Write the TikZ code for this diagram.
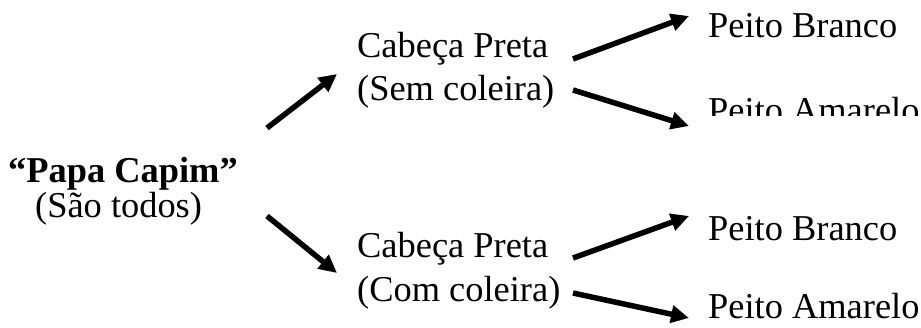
\documentclass[tikz,border=0pt]{standalone}
\usepackage{fontspec}
\setmainfont{Liberation Serif}
\usetikzlibrary{arrows.meta}
\begin{document}
\begin{tikzpicture}[x=1pt,y=-1pt,
  lbl/.style={inner sep=0pt,anchor=base west,font=\fontsize{36.4}{35}\selectfont},
  conn/.style={line width=5.5pt,-{Triangle[length=18pt,width=17pt]}}]
\useasboundingbox (0,0) rectangle (921,327);
% left
\node[lbl,font=\fontsize{36.4}{35}\selectfont\bfseries] (papa) at (8,182) {“Papa Capim”};
\node[lbl] (todos) at (35,217) {(São todos)};
% middle
\node[lbl] (cp1) at (357,57) {Cabeça Preta};
\node[lbl] (sem) at (357,100) {(Sem coleira)};
\node[lbl] (cp2) at (357,257) {Cabeça Preta};
\node[lbl] (com) at (357,301) {(Com coleira)};
% right
\node[lbl] (pb1) at (708,37) {Peito Branco};
\begin{scope}
\clip (690,60) rectangle (921,115);
\node[lbl] (pa1) at (708,122) {Peito Amarelo};
\end{scope}
\node[lbl] (pb2) at (708,240) {Peito Branco};
\node[lbl] (pa2) at (708,318) {Peito Amarelo};
% connector ends
\coordinate (a1s) at (267,128); \coordinate (a1e) at (337,74);
\coordinate (a2s) at (267,216); \coordinate (a2e) at (337,273);
\coordinate (b1s) at (573,59);  \coordinate (b1e) at (689,16);
\coordinate (b2s) at (573,90);  \coordinate (b2e) at (689,126);
\coordinate (c1s) at (573,258); \coordinate (c1e) at (689,216);
\coordinate (c2s) at (573,293); \coordinate (c2e) at (689,318);
\draw[conn] (a1s) -- (a1e);
\draw[conn] (a2s) -- (a2e);
\draw[conn] (b1s) -- (b1e);
\draw[conn] (b2s) -- (b2e);
\draw[conn] (c1s) -- (c1e);
\draw[conn] (c2s) -- (c2e);
\end{tikzpicture}
\end{document}
